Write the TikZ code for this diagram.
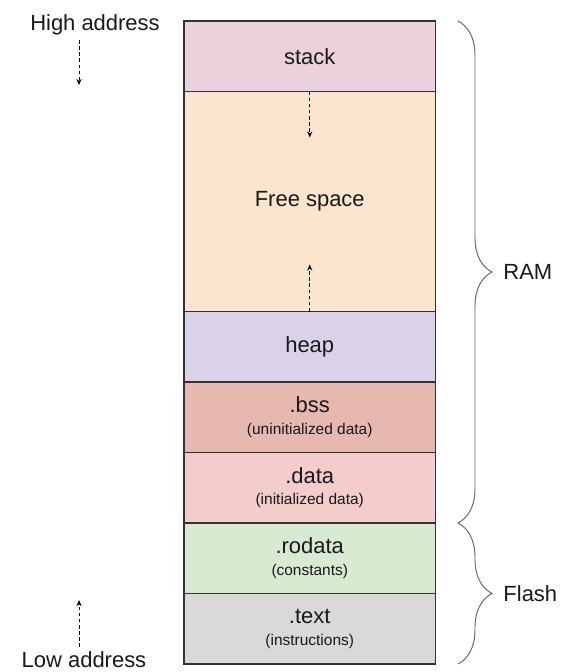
\documentclass[tikz,border=0pt]{standalone}
\usepackage{fontspec}
\setmainfont{Liberation Sans}
\usetikzlibrary{positioning,decorations.pathreplacing,arrows.meta}

\definecolor{stackc}{HTML}{EAD1DC}
\definecolor{freec}{HTML}{FCE5CD}
\definecolor{heapc}{HTML}{D9D2E9}
\definecolor{bssc}{HTML}{E6B8AF}
\definecolor{datac}{HTML}{F4CCCC}
\definecolor{rodatac}{HTML}{D9EAD3}
\definecolor{textc}{HTML}{D9D9D9}

\newcommand\segnote[1]{{\fontsize{8.8}{10}\selectfont #1}}

\begin{document}
\begin{tikzpicture}[
    seg/.style={draw=black!80,line width=0.6pt,minimum width=5.03cm,minimum height=1.41cm,
                outer sep=0pt,inner sep=0pt,align=center,text=black!90,
                font=\fontsize{12.5}{12.3}\selectfont},
    lbl/.style={inner sep=0pt,text=black!90,font=\fontsize{12.5}{15}\selectfont},
    growarrow/.style={line width=0.5pt,dash pattern=on 2pt off 1.5pt,-{Stealth[length=3.5pt,width=3pt]}},
    mem/.style={decorate,decoration={brace,amplitude=0.68cm},draw=black!60,line width=0.55pt}
  ]
  \useasboundingbox (0,0) rectangle (11.3,-13.44);

  % memory segments, top to bottom
  \node[seg,fill=stackc,anchor=north west] (stack) at (3.68,-0.42) {stack};
  \node[seg,fill=freec,minimum height=4.4cm,below=0pt of stack] (free) {Free space};
  \node[seg,fill=heapc,below=0pt of free] (heap) {heap};
  \node[seg,fill=bssc,below=0pt of heap] (bss) {.bss\\\segnote{(uninitialized data)}};
  \node[seg,fill=datac,below=0pt of bss] (data) {.data\\\segnote{(initialized data)}};
  \node[seg,fill=rodatac,below=0pt of data] (rodata) {.rodata\\\segnote{(constants)}};
  \node[seg,fill=textc,below=0pt of rodata] (text) {.text\\\segnote{(instructions)}};

  % stack grows down, heap grows up
  \coordinate (stackend) at ([yshift=-0.92cm]free.north);
  \coordinate (heapend) at ([yshift=0.94cm]free.south);
  \draw[growarrow] (free.north) -- (stackend);
  \draw[growarrow] (free.south) -- (heapend);

  % address direction
  \node[lbl] (high) at (1.9,-0.5) {High address};
  \node[lbl,anchor=base] (low) at (1.68,-13.34) {Low address};
  \coordinate (hitop) at (1.58,-0.8);
  \coordinate (hibot) at (1.58,-1.7);
  \coordinate (lotop) at (1.58,-12.0);
  \coordinate (lobot) at (1.58,-12.94);
  \draw[growarrow] (hitop) -- (hibot);
  \draw[growarrow] (lobot) -- (lotop);

  % RAM / Flash braces
  \draw[mem] ([xshift=0.45cm]stack.north east) -- ([xshift=0.45cm]data.south east)
    node[lbl,midway,right=0.9cm] (ram) {RAM};
  \draw[mem] ([xshift=0.45cm]rodata.north east) -- ([xshift=0.45cm]text.south east)
    node[lbl,midway,right=0.9cm] (flash) {Flash};
\end{tikzpicture}
\end{document}
